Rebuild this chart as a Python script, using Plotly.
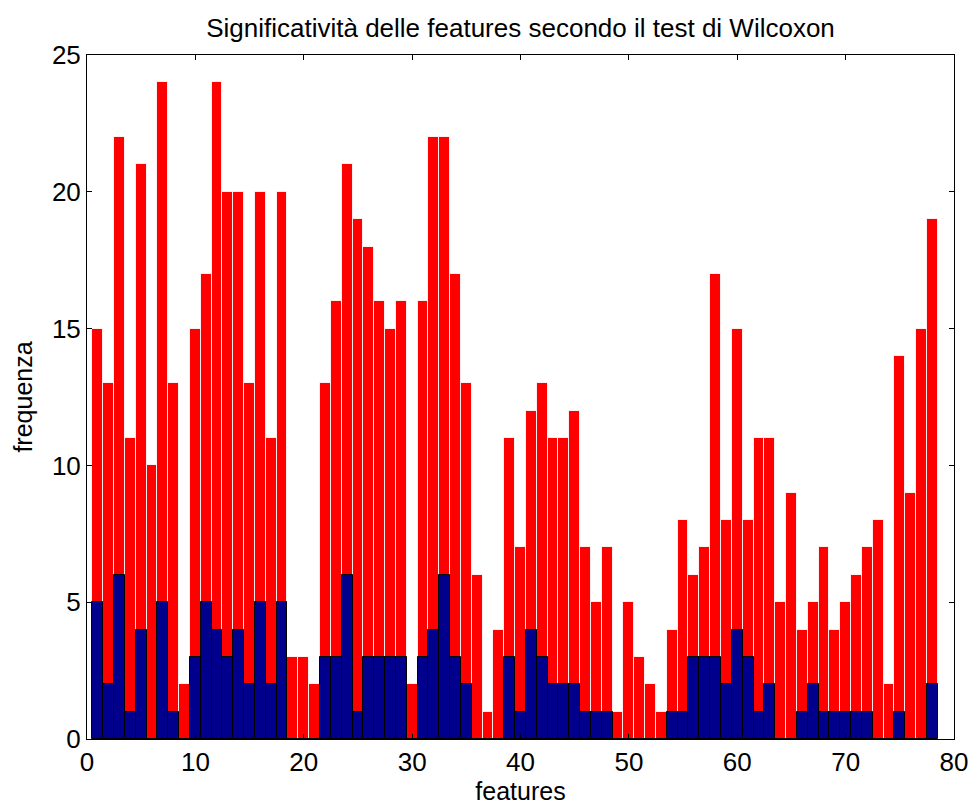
import plotly.graph_objects as go

# Feature index and how often each feature was found significant
features = list(range(1, 79))
freq_total = [15, 13, 22, 11, 21, 10, 24, 13, 2, 15,
              17, 24, 20, 20, 13, 20, 11, 20, 3, 3,
              2, 13, 16, 21, 19, 18, 16, 15, 16, 2,
              16, 22, 22, 17, 13, 6, 1, 4, 11, 7,
              12, 13, 11, 11, 12, 7, 5, 7, 1, 5,
              3, 2, 1, 4, 8, 6, 7, 17, 8, 15,
              8, 11, 11, 5, 9, 4, 5, 7, 4, 5,
              6, 7, 8, 2, 14, 9, 15, 19]
freq_sub = [5, 2, 6, 1, 4, 0, 5, 1, 0, 3,
            5, 4, 3, 4, 2, 5, 2, 5, 0, 0,
            0, 3, 3, 6, 1, 3, 3, 3, 3, 0,
            3, 4, 6, 3, 2, 0, 0, 0, 3, 1,
            4, 3, 2, 2, 2, 1, 1, 1, 0, 0,
            0, 0, 0, 1, 1, 3, 3, 3, 2, 4,
            3, 1, 2, 0, 0, 1, 2, 1, 1, 1,
            1, 1, 0, 0, 1, 0, 0, 2]

font_family = "Liberation Sans, Arial, sans-serif"

fig = go.Figure()
fig.add_trace(go.Bar(
    x=features, y=freq_total, width=1,
    marker=dict(color="#ff0000", line=dict(color="rgba(255,255,255,0.85)", width=1)),
    showlegend=False,
))
fig.add_trace(go.Bar(
    x=features, y=freq_sub, width=1,
    marker=dict(color="#00008c", line=dict(color="#000000", width=1)),
    showlegend=False,
))

axis_common = dict(
    showgrid=False, zeroline=False, automargin=False,
    showline=True, linecolor="black", linewidth=1, mirror="ticks",
    ticks="inside", ticklen=5, tickcolor="black",
    tickfont=dict(family=font_family, size=26, color="black"),
)

fig.update_layout(
    width=972, height=805,
    barmode="overlay", bargap=0,
    paper_bgcolor="white", plot_bgcolor="white",
    margin=dict(l=87, r=18, t=55, b=66, autoexpand=False),
    title=dict(
        text="Significatività delle features secondo il test di Wilcoxon",
        xref="paper", x=0.5, xanchor="center", y=0.965, yanchor="middle",
        font=dict(family=font_family, size=26, color="black"),
    ),
    xaxis=dict(range=[0, 80], dtick=10, tick0=0,
               title=dict(text="features", standoff=2,
                          font=dict(family=font_family, size=25, color="black")),
               **axis_common),
    yaxis=dict(range=[0, 25], dtick=5, tick0=0,
               title=dict(text="frequenza", standoff=12,
                          font=dict(family=font_family, size=25, color="black")),
               **axis_common),
)

fig.write_html("out.html")
